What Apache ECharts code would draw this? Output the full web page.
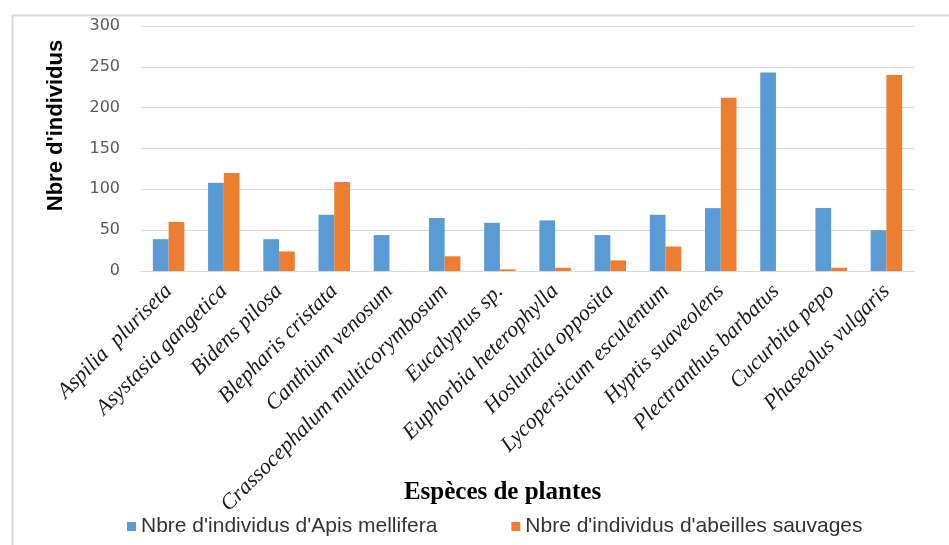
<!DOCTYPE html>
<html><head><meta charset="utf-8">
<script src="https://cdn.jsdelivr.net/npm/echarts@6/dist/echarts.min.js"></script>
<style>html,body{margin:0;padding:0;background:#fff}#c{width:949px;height:545px}</style>
</head><body><div id="c"></div>
<script>
const categories = ["Aspilia  pluriseta","Asystasia gangetica","Bidens pilosa","Blepharis cristata","Canthium venosum","Crassocephalum multicorymbosum","Eucalyptus sp.","Euphorbia heterophylla","Hoslundia opposita","Lycopersicum esculentum","Hyptis suaveolens","Plectranthus barbatus","Cucurbita pepo","Phaseolus vulgaris"];
const apisMellifera = [39,108,39,69,44,65,59,62,44,69,77,243,77,50];
const abeillesSauvages = [60,120,24,109,0,18,2,4,13,30,212,0,4,240];
const yTicks = [0,50,100,150,200,250,300];
const seriesNames = ["Nbre d'individus d'Apis mellifera","Nbre d'individus d'abeilles sauvages"];

const chart = echarts.init(document.getElementById('c'), null, {renderer:'canvas'});
chart.setOption({
  animation:false,
  backgroundColor:'#fff',
  graphic:[{type:'rect',left:10,top:13,shape:{width:1000,height:600},style:{fill:'none',stroke:'#d9d9d9',lineWidth:2},silent:true}],
  grid:{left:141,right:35,top:26,bottom:274,containLabel:false},
  legend:{
    left:122, top:511, itemWidth:9, itemHeight:9, itemGap:74, icon:'rect',
    textStyle:{fontFamily:'Liberation Sans',fontSize:21,color:'#333'},
    data:seriesNames
  },
  xAxis:{
    type:'category', data:categories,
    axisLine:{lineStyle:{color:'#d9d9d9'}}, axisTick:{show:false},
    axisLabel:{rotate:45,interval:0,margin:17,fontFamily:'Liberation Serif',fontStyle:'italic',fontSize:22,color:'#1a1a1a'},
    name:'Espèces de plantes', nameLocation:'middle', nameGap:209, nameMoveOverlap:false,
    nameTextStyle:{fontFamily:'Liberation Serif',fontWeight:'bold',fontSize:25,color:'#000',padding:[0,50,0,0]}
  },
  yAxis:{
    type:'value', min:yTicks[0], max:yTicks[yTicks.length-1], interval:50,
    axisLine:{show:false}, axisTick:{show:false},
    splitLine:{lineStyle:{color:'#d9d9d9',width:1}},
    axisLabel:{margin:21,fontFamily:'DejaVu Sans',fontSize:16,color:'#595959'},
    name:"Nbre d'individus", nameLocation:'middle', nameGap:74, nameRotate:90, nameMoveOverlap:false,
    nameTextStyle:{fontFamily:'Liberation Sans',fontWeight:'bold',fontSize:22,color:'#000',padding:[0,0,0,46]}
  },
  series:[
    {name:seriesNames[0],type:'bar',data:apisMellifera,barGap:'0%',barCategoryGap:'43%',
     itemStyle:{color:'#5B9BD5'}},
    {name:seriesNames[1],type:'bar',data:abeillesSauvages,barGap:'0%',barCategoryGap:'43%',
     itemStyle:{color:'#ED7D31'}}
  ]
});
</script></body></html>
